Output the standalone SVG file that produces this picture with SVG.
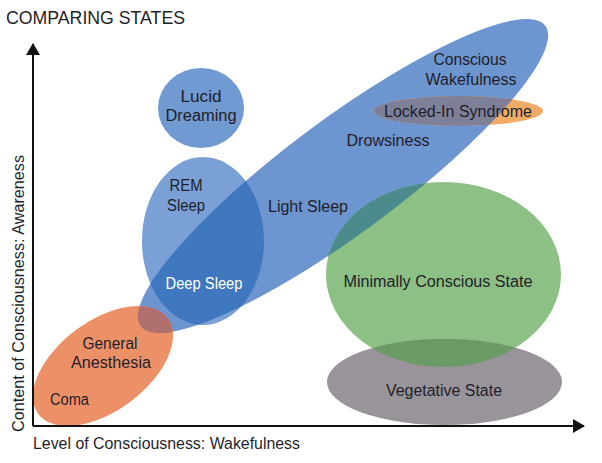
<svg xmlns="http://www.w3.org/2000/svg" width="602" height="463" viewBox="0 0 602 463">
<style>
text{font-family:"Liberation Sans","DejaVu Sans",Arial,sans-serif;font-size:16px;fill:#1f1f2a}
.c{text-anchor:middle}
.axis{stroke:#111;stroke-width:2;fill:none}
</style>
<defs>
<marker id="ah" viewBox="0 0 12 14" refX="11" refY="7" markerWidth="12" markerHeight="14" markerUnits="userSpaceOnUse" orient="auto">
<path d="M0,0 L12,7 L0,14 Z" fill="#111"/>
</marker>
<clipPath id="cBlue"><ellipse cx="343" cy="176" rx="252" ry="57" transform="rotate(-36.6 343 176)"/></clipPath>
<clipPath id="cGreen"><ellipse cx="443.5" cy="274.5" rx="117.5" ry="92.5"/></clipPath>
<clipPath id="cBlueRem"><ellipse cx="343" cy="176" rx="252" ry="57" transform="rotate(-36.6 343 176)"/><ellipse cx="203" cy="241" rx="61" ry="84"/></clipPath>
</defs>
<rect width="602" height="463" fill="#ffffff"/>
<text x="6" y="24" style="font-size:19px" textLength="179" lengthAdjust="spacingAndGlyphs">COMPARING STATES</text>

<g id="conscious-wakefulness">
<ellipse cx="343" cy="176" rx="252" ry="57" transform="rotate(-36.6 343 176)" fill="#6d95cf"/>
<text class="c" x="470" y="65" textLength="73" lengthAdjust="spacingAndGlyphs">Conscious</text>
<text class="c" x="471" y="85" textLength="91" lengthAdjust="spacingAndGlyphs">Wakefulness</text>
<text class="c" x="388" y="146" textLength="83" lengthAdjust="spacingAndGlyphs">Drowsiness</text>
<text class="c" x="308" y="212" textLength="80" lengthAdjust="spacingAndGlyphs">Light Sleep</text>
</g>

<g id="rem-sleep">
<ellipse cx="203" cy="241" rx="61" ry="84" fill="#7aa0d6"/>
<ellipse cx="203" cy="241" rx="61" ry="84" fill="#3f78be" clip-path="url(#cBlue)"/>
<text class="c" x="186" y="191" textLength="33" lengthAdjust="spacingAndGlyphs">REM</text>
<text class="c" x="186" y="211" textLength="38" lengthAdjust="spacingAndGlyphs">Sleep</text>
<text class="c" x="204" y="289" style="fill:#ffffff" textLength="77" lengthAdjust="spacingAndGlyphs">Deep Sleep</text>
</g>

<g id="lucid-dreaming">
<ellipse cx="201" cy="108" rx="43" ry="40" fill="#7199d2"/>
<text class="c" x="201" y="102" textLength="41" lengthAdjust="spacingAndGlyphs">Lucid</text>
<text class="c" x="201" y="121" textLength="71" lengthAdjust="spacingAndGlyphs">Dreaming</text>
</g>

<g id="minimally-conscious">
<ellipse cx="443.5" cy="274.5" rx="117.5" ry="92.5" fill="#8cc084"/>
<ellipse cx="443.5" cy="274.5" rx="117.5" ry="92.5" fill="#4b8b8e" clip-path="url(#cBlue)"/>
<text class="c" x="438" y="287" textLength="189" lengthAdjust="spacingAndGlyphs">Minimally Conscious State</text>
</g>

<g id="vegetative-state">
<ellipse cx="444.5" cy="382" rx="117.5" ry="43" fill="#99939a"/>
<ellipse cx="444.5" cy="382" rx="117.5" ry="43" fill="#6b9a66" clip-path="url(#cGreen)"/>
<text class="c" x="444" y="396" textLength="116" lengthAdjust="spacingAndGlyphs">Vegetative State</text>
</g>

<g id="anesthesia-coma">
<ellipse cx="103" cy="366" rx="80.5" ry="45" transform="rotate(-36.5 103 366)" fill="#ec9068"/>
<g clip-path="url(#cBlueRem)">
<ellipse cx="103" cy="366" rx="80.5" ry="45" transform="rotate(-36.5 103 366)" fill="#b07070"/>
</g>
<text class="c" x="110" y="349" textLength="55" lengthAdjust="spacingAndGlyphs">General</text>
<text class="c" x="111" y="368" textLength="80" lengthAdjust="spacingAndGlyphs">Anesthesia</text>
<text x="50" y="405" textLength="39" lengthAdjust="spacingAndGlyphs">Coma</text>
</g>

<g id="locked-in">
<ellipse cx="458.5" cy="111" rx="84.5" ry="15" fill="#f1ab66"/>
<ellipse cx="458.5" cy="111" rx="84.5" ry="15" fill="#7e7f98" clip-path="url(#cBlue)"/>
<text class="c" x="458" y="117" textLength="148" lengthAdjust="spacingAndGlyphs">Locked-In Syndrome</text>
</g>

<g id="axes">
<path class="axis" d="M33,426 L33,44" marker-end="url(#ah)"/>
<path class="axis" d="M33,426 L584,426" marker-end="url(#ah)"/>
<text x="33" y="449" textLength="267" lengthAdjust="spacingAndGlyphs">Level of Consciousness: Wakefulness</text>
<text transform="translate(24 432) rotate(-90)" x="0" y="0" textLength="277" lengthAdjust="spacingAndGlyphs">Content of Consciousness: Awareness</text>
</g>
</svg>
